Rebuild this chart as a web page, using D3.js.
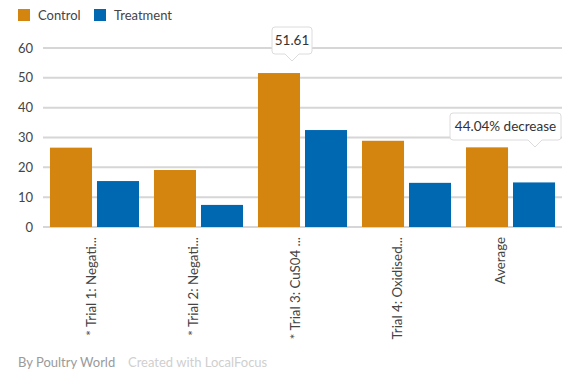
<!DOCTYPE html>
<html>
<head>
<meta charset="utf-8">
<script src="https://cdn.jsdelivr.net/npm/d3@7"></script>
<style>
  html, body { margin: 0; padding: 0; background: #fff; }
  svg { display: block; font-family: Lato, "Open Sans", sans-serif; }
</style>
</head>
<body>
<svg id="chart" width="575" height="381"></svg>
<script>
const categories = ["* Trial 1: Negati...", "* Trial 2: Negati...", "* Trial 3: CuS04 ...", "Trial 4: Oxidised...", "Average"];
const seriesNames = ["Control", "Treatment"];
const control = [26.6, 19.1, 51.61, 28.9, 26.7];
const treatment = [15.4, 7.4, 32.5, 14.8, 14.94];
const yTicks = [0, 10, 20, 30, 40, 50, 60];
const colors = ["#d4850f", "#0068b0"];
const tooltips = [
  { text: "51.61", category: "* Trial 3: CuS04 ...", series: "Control", value: 51.61 },
  { text: "44.04% decrease", category: "Average", series: "Treatment", value: 14.94 }
];

const svg = d3.select("#chart");
const plotLeft = 43, plotRight = 562, plotTop = 48, plotBottom = 227;

const x = d3.scaleBand().domain(categories).range([plotLeft, plotRight]).paddingInner(0.144).paddingOuter(0.067);
const x1 = d3.scaleBand().domain(seriesNames).range([0, x.bandwidth()]).paddingInner(0.106);
const y = d3.scaleLinear().domain([0, 60]).range([plotBottom, plotTop]);
const color = d3.scaleOrdinal().domain(seriesNames).range(colors);
const labelX = d3.scalePoint().domain(categories).range([91, 500]);

// gridlines
svg.append("g").selectAll("line").data(yTicks).join("line")
  .attr("x1", plotLeft).attr("x2", plotRight)
  .attr("y1", d => y(d)).attr("y2", d => y(d))
  .attr("stroke", "#d6d6d6").attr("stroke-width", 2);

// y labels
svg.append("g").selectAll("text").data(yTicks).join("text")
  .attr("x", 33).attr("y", d => y(d)).attr("dy", "0.35em")
  .attr("text-anchor", "end").attr("font-size", 13).attr("fill", "#444")
  .text(d => d);

// bars
const rows = categories.map((c, i) => ({ c, vals: [control[i], treatment[i]] }));
const g = svg.append("g").selectAll("g").data(rows).join("g")
  .attr("transform", d => `translate(${x(d.c)},0)`);
g.selectAll("rect").data(d => d.vals.map((v, j) => ({ s: seriesNames[j], v }))).join("rect")
  .attr("x", d => x1(d.s)).attr("width", x1.bandwidth())
  .attr("y", d => y(d.v)).attr("height", d => y(0) - y(d.v))
  .attr("fill", d => color(d.s));

// x labels
svg.append("g").selectAll("text").data(categories).join("text")
  .attr("transform", d => `translate(${labelX(d)},237) rotate(-90)`)
  .attr("dy", "0.35em")
  .attr("text-anchor", "end").attr("font-size", 13.3).attr("fill", "#444")
  .text(d => d);

// legend
const leg = svg.append("g");
const legX = [18, 94];
seriesNames.forEach((s, i) => {
  leg.append("rect").attr("x", legX[i]).attr("y", 9).attr("width", 12).attr("height", 12).attr("fill", color(s));
  leg.append("text").attr("x", legX[i] + 20).attr("y", 15).attr("dy", "0.35em")
    .attr("font-size", 13).attr("fill", "#444").text(s);
});

// tooltips
const tipBoxes = [
  { bx: 272, by: 27, w: 40, tipX: 292 },
  { bx: 450, by: 113, w: 111, tipX: 535 }
];
tooltips.forEach((t, i) => {
  const b = tipBoxes[i];
  const tg = svg.append("g");
  const w = b.w, h = 27;
  const path = `M${b.bx + 3},${b.by} H${b.bx + w - 3} Q${b.bx + w},${b.by} ${b.bx + w},${b.by + 3} V${b.by + h - 3} Q${b.bx + w},${b.by + h} ${b.bx + w - 3},${b.by + h}` +
    ` H${b.tipX + 7} L${b.tipX},${b.by + h + 7} L${b.tipX - 7},${b.by + h} H${b.bx + 3} Q${b.bx},${b.by + h} ${b.bx},${b.by + h - 3} V${b.by + 3} Q${b.bx},${b.by} ${b.bx + 3},${b.by} Z`;
  tg.append("path").attr("d", path).attr("fill", "#fff").attr("stroke", "#dcdcdc").attr("stroke-width", 1);
  tg.append("text").attr("font-size", 13.5).attr("fill", "#333")
    .attr("x", b.bx + w / 2).attr("y", b.by + h / 2).attr("dy", "0.35em")
    .attr("text-anchor", "middle").text(t.text);
});

// footer
svg.append("text").attr("x", 18).attr("y", 362).attr("dy", "0.35em").attr("font-size", 13).attr("fill", "#9a9a9a").text("By Poultry World");
svg.append("text").attr("x", 128).attr("y", 362).attr("dy", "0.35em").attr("font-size", 13).attr("fill", "#cfcfcf").text("Created with LocalFocus");
</script>
</body>
</html>
